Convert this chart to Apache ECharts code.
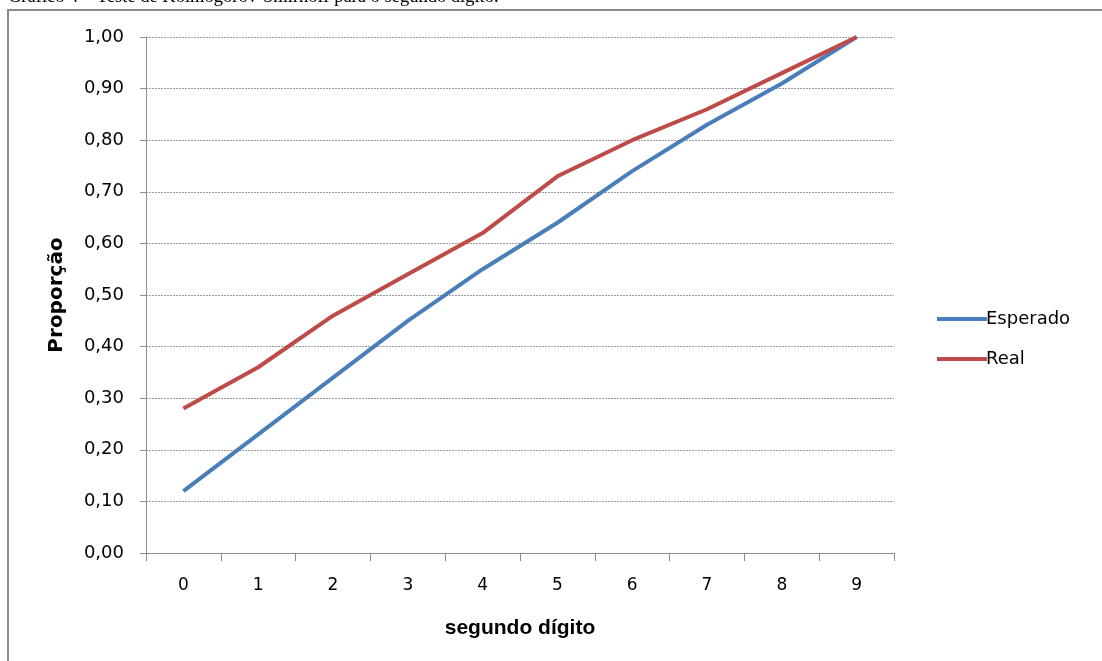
<!DOCTYPE html>
<html>
<head>
<meta charset="utf-8">
<script src="https://cdn.jsdelivr.net/npm/echarts@6/dist/echarts.min.js"></script>
<style>
html,body{margin:0;padding:0;background:#fff;}
#c{width:1102px;height:661px;}
</style>
</head>
<body>
<div id="c"></div>
<script>
const categories = ['0','1','2','3','4','5','6','7','8','9'];
const esperado = [0.12, 0.23, 0.34, 0.45, 0.55, 0.64, 0.74, 0.83, 0.91, 1.00];
const real = [0.28, 0.36, 0.46, 0.54, 0.62, 0.73, 0.80, 0.86, 0.93, 1.00];
const seriesNames = ['Esperado', 'Real'];
const titleText = 'Gráfico 4 – Teste de Kolmogorov-Smirnoff para o segundo dígito.';

const chart = echarts.init(document.getElementById('c'), null, {renderer: 'canvas'});
chart.setOption({
  animation: false,
  backgroundColor: '#fff',
  graphic: [
    {type: 'text', left: 8, top: -12, z: 10,
     style: {text: titleText, font: '18.5px "Liberation Serif"', fill: '#000'}},
    {type: 'rect', shape: {x: 8, y: 10, width: 1200, height: 700}, z: -1,
     style: {fill: 'none', stroke: '#8c8c8c', lineWidth: 2}}
  ],
  legend: {
    orient: 'vertical',
    left: 932, top: 305,
    itemWidth: 50, itemHeight: 4, itemGap: 22,
    icon: 'rect',
    textStyle: {fontFamily: 'DejaVu Sans', fontSize: 18, color: '#000', padding: [0,0,0,-6]},
    data: seriesNames
  },
  grid: {left: 146, right: 208, top: 37, bottom: 108},
  xAxis: {
    type: 'category',
    data: categories,
    boundaryGap: true,
    name: 'segundo dígito',
    nameLocation: 'middle',
    nameGap: 65,
    nameTextStyle: {fontFamily: 'Liberation Sans', fontWeight: 'bold', fontSize: 21, color: '#000'},
    axisLine: {lineStyle: {color: '#8c8c8c', width: 1}},
    axisTick: {show: true, alignWithLabel: false, length: 8, lineStyle: {color: '#8c8c8c'}},
    axisLabel: {fontFamily: 'DejaVu Sans', fontSize: 17, color: '#000', margin: 24}
  },
  yAxis: {
    type: 'value',
    min: 0, max: 1, interval: 0.1,
    name: 'Proporção',
    nameLocation: 'middle',
    nameGap: 79,
    nameTextStyle: {fontFamily: 'DejaVu Sans', fontWeight: 'bold', fontSize: 20, color: '#000'},
    axisLine: {show: true, lineStyle: {color: '#8c8c8c', width: 1}},
    axisTick: {show: true, length: 6, lineStyle: {color: '#8c8c8c'}},
    axisLabel: {fontFamily: 'DejaVu Sans', fontSize: 18, color: '#000', margin: 22,
      formatter: v => v.toFixed(2).replace('.', ',')},
    splitLine: {show: true, lineStyle: {color: '#9a9a9a', type: [2, 1], width: 1}}
  },
  series: [
    {name: seriesNames[0], type: 'line', data: esperado, symbol: 'none',
     lineStyle: {color: '#4a7ebb', width: 4}, itemStyle: {color: '#4a7ebb'}},
    {name: seriesNames[1], type: 'line', data: real, symbol: 'none',
     lineStyle: {color: '#be4b48', width: 4}, itemStyle: {color: '#be4b48'}}
  ]
});
</script>
</body>
</html>
